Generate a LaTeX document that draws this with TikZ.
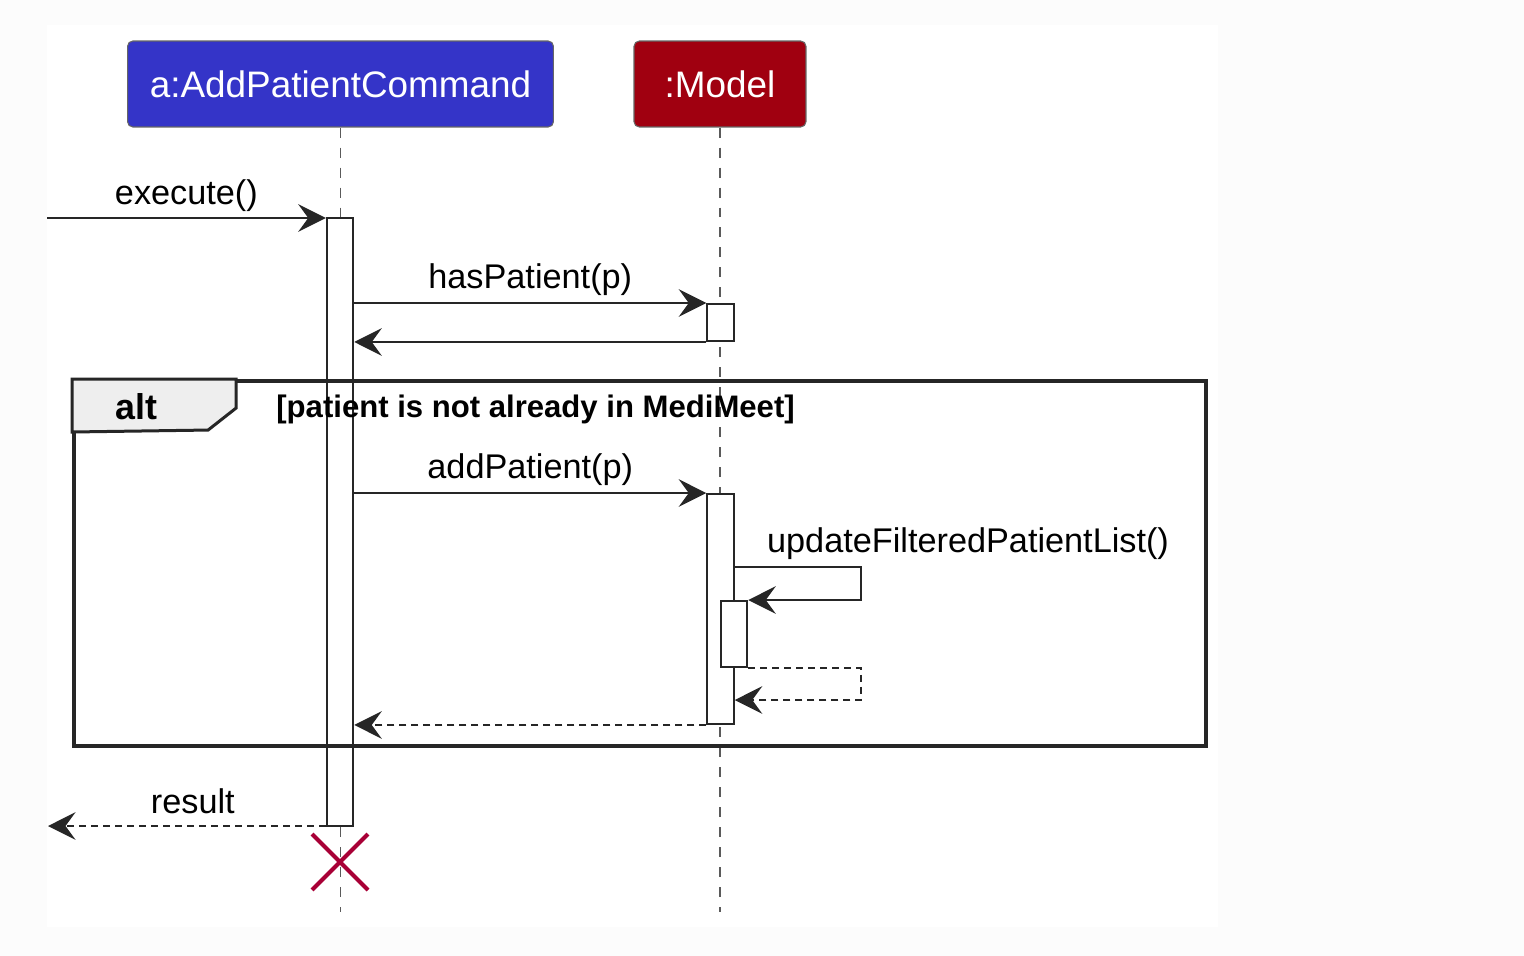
\documentclass[tikz,border=0pt]{standalone}
\usepackage{fontspec}
\setmainfont{Liberation Sans}
\usetikzlibrary{arrows.meta,calc,positioning,shapes.misc}
\definecolor{cmdblue}{RGB}{52,52,200}
\definecolor{modelred}{RGB}{160,0,16}
\definecolor{destroyred}{RGB}{168,0,54}
\definecolor{lifegray}{RGB}{90,90,90}
\definecolor{tabgray}{RGB}{238,238,238}
\definecolor{pagegray}{RGB}{252,252,252}

\begin{document}
\begin{tikzpicture}[x=0.02cm, y=-0.02cm,
    participant/.style={rectangle, draw=black!60, line width=0.6pt, rounded corners=3pt, text=white, minimum height=1.72cm, font=\fontsize{21}{25}\selectfont},
    activation/.style={rectangle, draw=black!85, fill=white, line width=0.04cm, minimum width=0.53cm, inner sep=0pt},
    msg/.style={draw=black!85, line width=0.04cm, -{Stealth[length=0.55cm, width=0.55cm, inset=0.2cm]}},
    reply/.style={msg, dash pattern=on 0.14cm off 0.1cm},
    lifeline/.style={draw=lifegray, line width=0.03cm, dash pattern=on 0.2cm off 0.2cm},
    msgtext/.style={inner sep=0pt, anchor=base, font=\fontsize{19.5}{23}\selectfont}]

    % page
    \fill[pagegray] (0,0) rectangle (1524,956);
    \fill[white] (47,25) rectangle (1218,927);

    % participants
    \node (cmd) [participant, fill=cmdblue, minimum width=8.52cm] at (340.5,84) {a:AddPatientCommand};
    \node (model) [participant, fill=modelred, minimum width=3.44cm] at (720,84) {:Model};

    \coordinate (lifeEnd) at (0,912);
    \draw[lifeline] (cmd.south) -- (cmd.south |- lifeEnd);
    \draw[lifeline] (model.south) -- (model.south |- lifeEnd);

    % activations
    \node (actCmd) [activation, minimum height=12.16cm] at (340,522) {};
    \node (actHas) [activation, minimum height=0.74cm] at (720.5,322.5) {};
    \node (actAdd) [activation, minimum height=4.6cm] at (720.5,609) {};
    \node (actUpd) [activation, minimum height=1.32cm] at (734,634) {};

    % alt frame
    \node (altFrame) [draw=black!85, line width=0.08cm, minimum width=22.64cm, minimum height=7.3cm, inner sep=0pt] at (640,563.5) {};
    \filldraw[fill=tabgray, draw=black!85, line width=0.06cm] (altFrame.north west) -- ++(164,0) -- ++(0,29) -- ++(-28,22) -- (altFrame.north west |- 0,432) -- cycle;
    \node (altLbl) [inner sep=0pt, anchor=base west, font=\bfseries\fontsize{20.4}{24}\selectfont] at (115,419) {alt};
    \node (guard) [inner sep=0pt, anchor=base west, font=\bfseries\fontsize{17.7}{21}\selectfont] at (276,417) {[patient is not already in MediMeet]};

    % execute
    \coordinate (caller) at (47,218);
    \draw[msg] (caller) -- (caller -| actCmd.west);
    \node (lblExec) [msgtext] at ($(caller)!0.5!(caller -| actCmd.west) + (0,-13)$) {execute()};

    % hasPatient
    \draw[msg] (actCmd.east |- actHas.north) -- (actHas.north west);
    \node (lblHas) [msgtext] at ($(actCmd.east |- actHas.north)!0.5!(actHas.north west) + (0,-15)$) {hasPatient(p)};
    \draw[msg] (actHas.south west) -- (actCmd.east |- actHas.south);

    % addPatient
    \draw[msg] (actCmd.east |- actAdd.north) -- (actAdd.north west);
    \node (lblAdd) [msgtext] at ($(actCmd.east |- actAdd.north)!0.5!(actAdd.north west) + (0,-15)$) {addPatient(p)};

    % self call
    \draw[msg] (actAdd.east |- 0,567) -- ++(126,0) |- (actUpd.north east);
    \node (lblUpd) [msgtext, anchor=base west] at ($(actAdd.east |- 0,567) + (32,-15)$) {updateFilteredPatientList()};
    \draw[reply] (actUpd.south east) -- ++(113,0) |- (actAdd.east |- 0,700);
    \draw[reply] (actAdd.south west) -- (actCmd.east |- actAdd.south);

    % result
    \coordinate (resultEnd) at (48,826);
    \draw[reply] (resultEnd -| actCmd.west) -- (resultEnd);
    \node (lblResult) [msgtext] at ($(resultEnd -| actCmd.west)!0.5!(resultEnd) + (6,-13)$) {result};

    % destroy
    \node (destroy) [cross out, draw=destroyred, line width=0.08cm, minimum size=1.04cm, inner sep=0pt] at (340,862) {};
\end{tikzpicture}
\end{document}
